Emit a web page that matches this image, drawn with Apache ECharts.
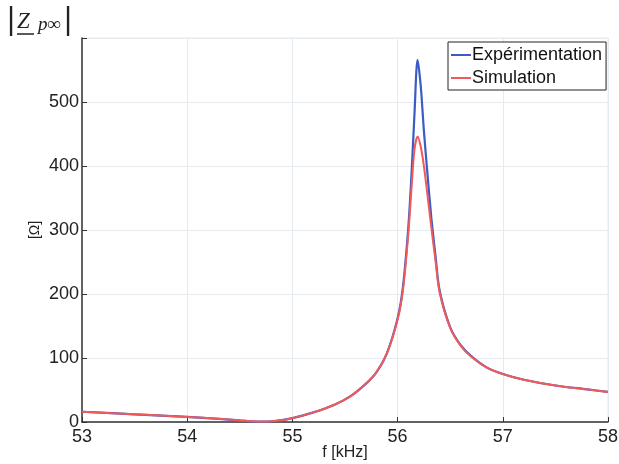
<!DOCTYPE html>
<html>
<head>
<meta charset="utf-8">
<script src="https://cdn.jsdelivr.net/npm/echarts@6/dist/echarts.min.js"></script>
<style>html,body{margin:0;padding:0;background:#fff}#c{width:619px;height:464px}</style>
</head>
<body>
<div id="c"></div>
<script>
const freq = [53, 53.5, 54, 54.3, 54.5, 54.7, 54.85, 55, 55.2, 55.4, 55.55, 55.7, 55.8, 55.9, 56.0, 56.05, 56.1, 56.13, 56.16, 56.19, 56.22, 56.25, 56.28, 56.32, 56.36, 56.4, 56.5, 56.6, 56.7, 56.85, 57, 57.2, 57.5, 57.8, 58];
const experimentation = [16, 12, 8, 5, 2.5, 0.5, 2, 6, 15, 27, 40, 60, 78, 108, 162, 210, 300, 380, 480, 566, 525, 455, 395, 320, 260, 205, 148, 120, 103, 85, 75, 66, 57, 51, 47];
const simulation = [16, 12, 8, 5, 2.5, 0.5, 2, 6, 15, 27, 40, 60, 78, 108, 160, 205, 290, 360, 425, 446, 430, 400, 360, 305, 252, 202, 147, 119, 102, 85, 75, 66, 57, 51, 47];
const xTicks = [53, 54, 55, 56, 57, 58];
const yTicks = [0, 100, 200, 300, 400, 500, 600];
const seriesNames = ['Expérimentation', 'Simulation'];

const chart = echarts.init(document.getElementById('c'), null, {renderer: 'canvas'});
const font = 'Liberation Sans, Arial, sans-serif';
const pair = (xs, ys) => xs.map((x, i) => [x, ys[i]]);

chart.setOption({
  animation: false,
  backgroundColor: '#fff',
  textStyle: {fontFamily: font},
  grid: {left: 82, right: 11, top: 38, bottom: 42, containLabel: false, outerBoundsMode: 'none',
    show: true, borderColor: '#e4e8ee', borderWidth: 1},
  xAxis: {
    type: 'value', min: xTicks[0], max: xTicks[xTicks.length - 1], interval: 1,
    name: 'f [kHz]', nameLocation: 'middle', nameGap: 23, nameMoveOverlap: false,
    nameTextStyle: {fontSize: 16, color: '#222', fontFamily: font},
    axisLine: {show: true, onZero: false, lineStyle: {color: '#333', width: 1.5}},
    axisTick: {show: true, inside: true, length: 5, lineStyle: {color: '#333'}},
    axisLabel: {fontSize: 18, color: '#222', margin: 6, fontFamily: font},
    splitLine: {show: true, lineStyle: {color: '#e6ebf2', width: 1}}
  },
  yAxis: {
    type: 'value', min: yTicks[0], max: yTicks[yTicks.length - 1], interval: 100,
    name: '[Ω]', nameLocation: 'middle', nameGap: 40, nameRotate: 90, nameMoveOverlap: false,
    nameTextStyle: {fontSize: 14, color: '#222', fontFamily: font},
    axisLine: {show: true, lineStyle: {color: '#333', width: 1.5}},
    axisTick: {show: true, inside: true, length: 5, lineStyle: {color: '#333'}},
    axisLabel: {fontSize: 18, color: '#222', margin: 3, fontFamily: font,
      formatter: v => (v === 600 ? '' : String(v))},
    splitLine: {show: true, lineStyle: {color: '#e6ebf2', width: 1}}
  },
  legend: {
    orient: 'vertical', left: 448, top: 42,
    padding: [3, 4, 2, 3], itemGap: 3,
    itemWidth: 20, itemHeight: 2, icon: 'rect',
    backgroundColor: '#fff', borderColor: '#222', borderWidth: 1,
    textStyle: {fontSize: 18, color: '#111', fontFamily: font, padding: [0, 0, 0, -4], lineHeight: 20},
    data: seriesNames
  },
  series: [
    {name: seriesNames[0], type: 'line', data: pair(freq, experimentation), smooth: 0.3,
      symbol: 'none', lineStyle: {color: '#3a5cc4', width: 2.2}, itemStyle: {color: '#3a5cc4'}},
    {name: seriesNames[1], type: 'line', data: pair(freq, simulation), smooth: 0.3,
      symbol: 'none', lineStyle: {color: '#f05a5a', width: 2}, itemStyle: {color: '#f05a5a'}}
  ],
  graphic: [
    {type: 'text', left: 6, top: 6, style: {text: '|', font: '30px "DejaVu Serif", serif', fill: '#222'}},
    {type: 'text', left: 17, top: 10, style: {text: 'Z', font: 'italic 23px "Liberation Serif", serif', fill: '#222'}},
    {type: 'line', shape: {x1: 17, y1: 34, x2: 34, y2: 34}, style: {stroke: '#222', lineWidth: 1.5}},
    {type: 'text', left: 38, top: 15, style: {text: 'p∞', font: 'italic 19px "Liberation Serif", serif', fill: '#222'}},
    {type: 'text', left: 63, top: 6, style: {text: '|', font: '30px "DejaVu Serif", serif', fill: '#222'}}
  ]
});
</script>
</body>
</html>
